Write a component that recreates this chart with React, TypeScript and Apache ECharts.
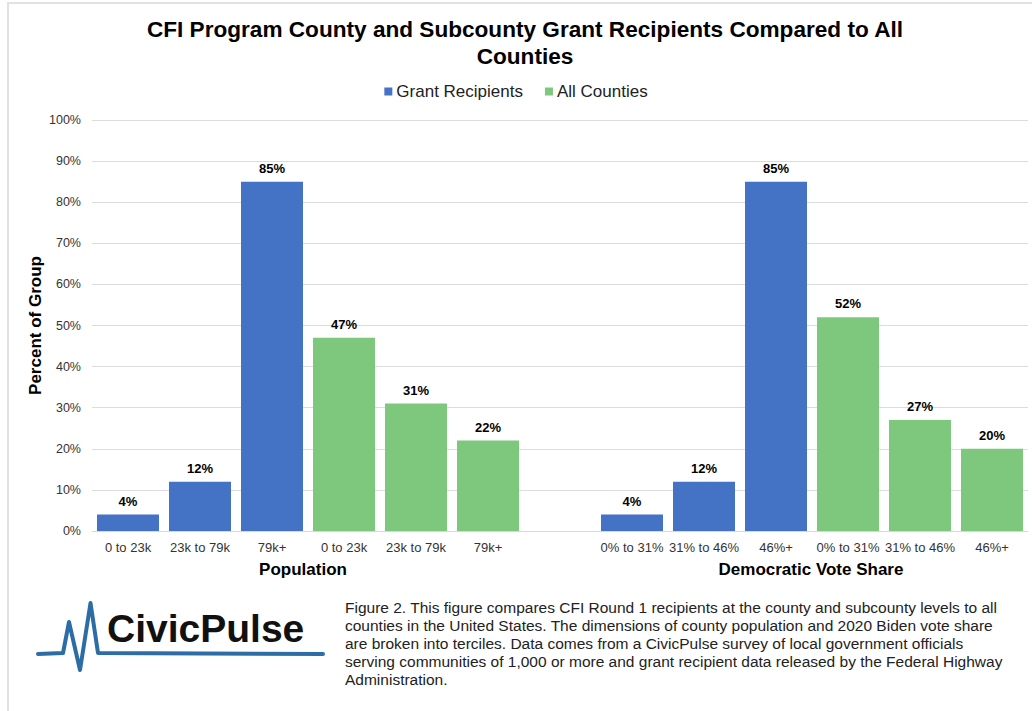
import React, { useEffect, useRef } from "react";
import * as echarts from "echarts";

const popCategories = ["0 to 23k", "23k to 79k", "79k+"];
const voteCategories = ["0% to 31%", "31% to 46%", "46%+"];
const popGrant = [4, 12, 85];
const popAll = [47, 31, 22];
const voteGrant = [4, 12, 85];
const voteAll = [52, 27, 20];
const yTicks = [0, 10, 20, 30, 40, 50, 60, 70, 80, 90, 100];
const groupNames = ["Population", "Democratic Vote Share"];
const seriesNames = ["Grant Recipients", "All Counties"];
const titleText = "CFI Program County and Subcounty Grant Recipients Compared to All\nCounties";
const captionText =
  "Figure 2. This figure compares CFI Round 1 recipients at the county and subcounty levels to all\n" +
  "counties in the United States. The dimensions of county population and 2020 Biden vote share\n" +
  "are broken into terciles. Data comes from a CivicPulse survey of local government officials\n" +
  "serving communities of 1,000 or more and grant recipient data released by the Federal Highway\n" +
  "Administration.";

const FONT = "'Liberation Sans', Arial, Helvetica, sans-serif";
const BLUE = "#4472c4";
const GREEN = "#7ec87e";

export default function App() {
  const ref = useRef<HTMLDivElement>(null);

  useEffect(() => {
    if (!ref.current) return;
    const chart = echarts.init(ref.current, undefined, { renderer: "svg" });

    const blank = ["-", "-", "-"];
    const categories = [...popCategories, ...popCategories, "", ...voteCategories, ...voteCategories];
    const grantData = [...popGrant, ...blank, "-", ...voteGrant, ...blank];
    const allData = [...blank, ...popAll, "-", ...blank, ...voteAll];

    const labelCfg = {
      show: true,
      position: "top",
      distance: 7,
      formatter: "{c}%",
      fontFamily: FONT,
      fontWeight: "bold",
      fontSize: 13,
      color: "#000",
    };

    chart.setOption({
      animation: false,
      backgroundColor: "#fff",
      textStyle: { fontFamily: FONT },
      title: {
        text: titleText,
        left: 520,
        textAlign: "center",
        top: 11,
        textStyle: {
          fontFamily: FONT,
          fontWeight: "bold",
          fontSize: 22.6,
          lineHeight: 27,
          color: "#000",
        },
      },
      legend: {
        data: seriesNames,
        top: 78,
        left: "center",
        itemWidth: 8,
        itemHeight: 8,
        itemGap: 22,
        icon: "rect",
        textStyle: { fontFamily: FONT, fontSize: 17, color: "#222", padding: [0, 0, 0, -1] },
      },
      grid: { left: 92, right: 4, top: 120, bottom: 180, containLabel: false },
      xAxis: {
        type: "category",
        data: categories,
        axisTick: { show: false },
        axisLine: { lineStyle: { color: "#d9d9d9", width: 1 } },
        axisLabel: { interval: 0, margin: 10, fontSize: 13, color: "#333", fontFamily: FONT },
      },
      yAxis: {
        type: "value",
        min: yTicks[0],
        max: yTicks[yTicks.length - 1],
        interval: 10,
        name: "Percent of Group",
        nameLocation: "middle",
        nameGap: 48,
        nameMoveOverlap: false,
        nameTextStyle: { fontFamily: FONT, fontWeight: "bold", fontSize: 17, color: "#000" },
        axisLine: { show: false },
        axisTick: { show: false },
        axisLabel: { formatter: "{value}%", fontSize: 12.5, color: "#333", margin: 11, fontFamily: FONT },
        splitLine: { lineStyle: { color: "#dcdcdc", width: 1 } },
      },
      series: [
        {
          name: seriesNames[0],
          type: "bar",
          stack: "g",
          barWidth: 62,
          data: grantData,
          itemStyle: { color: BLUE },
          label: labelCfg,
        },
        {
          name: seriesNames[1],
          type: "bar",
          stack: "g",
          barWidth: 62,
          data: allData,
          itemStyle: { color: GREEN },
          label: labelCfg,
        },
      ],
      graphic: [
        {
          type: "rect",
          shape: { x: 8, y: 3, width: 1200, height: 900 },
          style: { fill: "none", stroke: "#e2e2e2", lineWidth: 2 },
          silent: true,
        },
        {
          type: "text",
          x: 303,
          y: 569,
          style: {
            text: groupNames[0],
            font: `bold 17px ${FONT}`,
            fill: "#000",
            textAlign: "center",
            textVerticalAlign: "middle",
          },
        },
        {
          type: "text",
          x: 811,
          y: 569,
          style: {
            text: groupNames[1],
            font: `bold 17px ${FONT}`,
            fill: "#000",
            textAlign: "center",
            textVerticalAlign: "middle",
          },
        },
        {
          type: "polyline",
          shape: {
            points: [
              [38, 654],
              [63, 653],
              [69, 622],
              [80, 670],
              [90.5, 603],
              [98, 653],
              [323, 654],
            ],
          },
          style: { stroke: "#2d6da6", lineWidth: 4, fill: "none", lineJoin: "round", lineCap: "round" },
        },
        {
          type: "text",
          x: 107,
          y: 628,
          style: {
            text: "CivicPulse",
            font: `bold 39px ${FONT}`,
            fill: "#111",
            textAlign: "left",
            textVerticalAlign: "middle",
          },
        },
        {
          type: "text",
          x: 345,
          y: 599,
          style: {
            text: captionText,
            font: `15.5px ${FONT}`,
            lineHeight: 17.8,
            fill: "#222",
            textAlign: "left",
            textVerticalAlign: "top",
          },
        },
      ],
    });

    return () => chart.dispose();
  }, []);

  return (
    <div
      ref={ref}
      style={{ position: "fixed", left: 0, top: 0, width: 1032, height: 711, background: "#fff" }}
    />
  );
}
